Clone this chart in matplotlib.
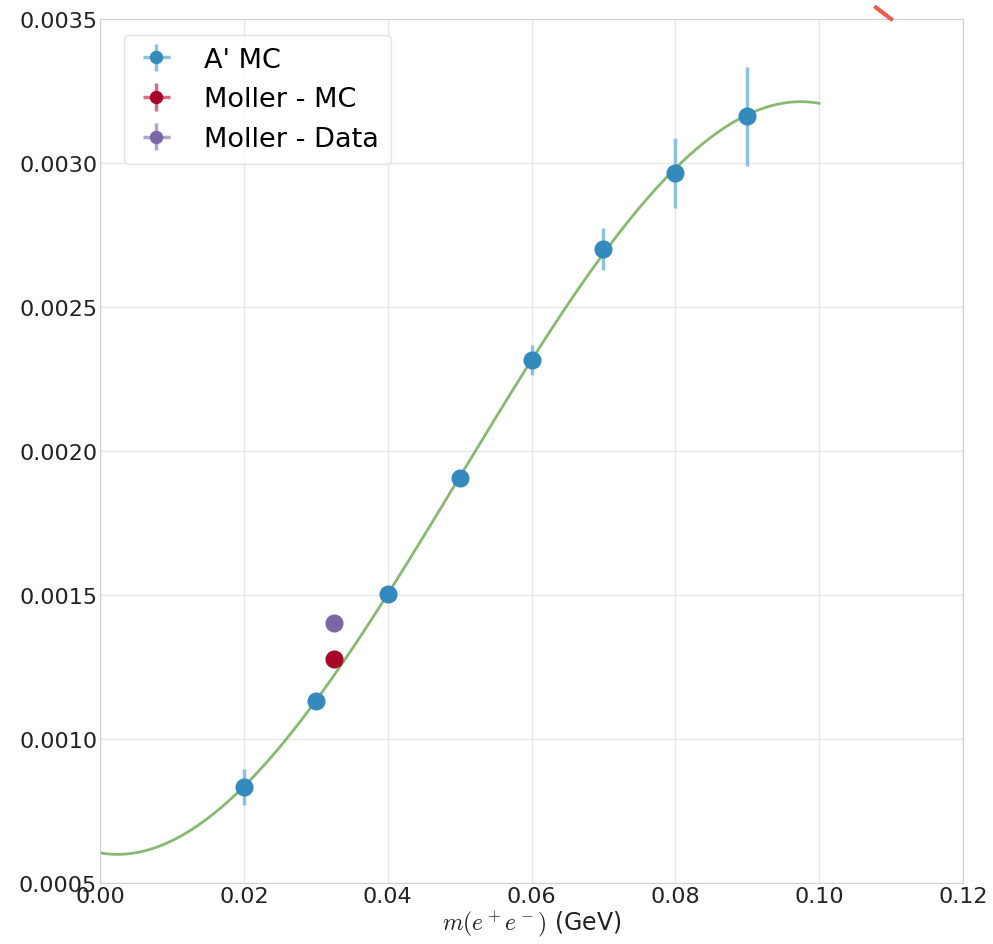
import numpy as np
import matplotlib
matplotlib.use("Agg")
import matplotlib.pyplot as plt

# ---- data ----
ap_mass = [0.02, 0.03, 0.04, 0.05, 0.06, 0.07, 0.08, 0.09]
ap_val = [0.000833, 0.001132, 0.001505, 0.001905, 0.002316, 0.002703, 0.002965, 0.003163]
ap_err = [0.000064, 0.000020, 0.000020, 0.000025, 0.000052, 0.000073, 0.000122, 0.000172]

moller_mc_mass = [0.0325]
moller_mc_val = [0.001278]
moller_data_mass = [0.0325]
moller_data_val = [0.001402]

fit_range = [0.0, 0.10]
red_seg_x = [0.1079, 0.1100]
red_seg_y = [0.003540, 0.003500]

xticks = [0.00, 0.02, 0.04, 0.06, 0.08, 0.10, 0.12]
yticks = [0.0005, 0.0010, 0.0015, 0.0020, 0.0025, 0.0030, 0.0035]

plt.rcParams['mathtext.fontset'] = 'cm'
fig = plt.figure(figsize=(9.93, 9.45), dpi=100)
ax = fig.add_axes([0.1007, 0.0646, 0.8691, 0.9142])

# cubic fit through the A' MC points (weighted by their errors)
coef = np.polyfit(ap_mass, ap_val, 3, w=1.0 / np.array(ap_err))
xf = np.linspace(fit_range[0], fit_range[1], 300)
ax.plot(xf, np.polyval(coef, xf), color='#6aa84f', lw=2, alpha=0.8, zorder=2)

ax.errorbar(ap_mass, ap_val, yerr=ap_err, xerr=[0] * len(ap_mass), fmt='o',
            color='#348ABD', ecolor='#8fc0e0', elinewidth=2.5, ms=12,
            label="A' MC", zorder=3)
ax.errorbar(moller_mc_mass, moller_mc_val, yerr=[0], xerr=[0], fmt='o',
            color='#A60628', ecolor='#d07080', elinewidth=2.5, ms=12,
            label='Moller - MC', zorder=3)
ax.errorbar(moller_data_mass, moller_data_val, yerr=[0], xerr=[0], fmt='o',
            color='#7A68A6', ecolor='#b0a4cc', elinewidth=2.5, ms=12,
            label='Moller - Data', zorder=3)

ax.plot(red_seg_x, red_seg_y, color='#f25a4a', lw=3, clip_on=False, zorder=5)

ax.set_xlim(0, 0.12)
ax.set_ylim(0.0005, 0.0035)
ax.set_xticks(xticks)
ax.set_yticks(yticks)
ax.set_xticklabels(['%.2f' % t for t in xticks])
ax.set_yticklabels(['%.4f' % t for t in yticks])
ax.tick_params(length=0, pad=2, labelsize=16, labelcolor='#222222')
ax.grid(True, color='#e6e6e6', lw=1)
ax.set_axisbelow(True)
for s in ax.spines.values():
    s.set_color('#d0d0d0')
ax.set_xlabel(r'$m(e^+e^-)$ (GeV)', fontsize=17, labelpad=2, color='#222222')

leg = ax.legend(loc='upper left', fontsize=19.5, markerscale=0.72, frameon=True,
                borderpad=0.45, handlelength=1.5, handletextpad=1.0,
                labelspacing=0.5, bbox_to_anchor=(0.012, 0.9975))
leg.get_frame().set_edgecolor('#dddddd')

fig.savefig('out.png', dpi=100)
